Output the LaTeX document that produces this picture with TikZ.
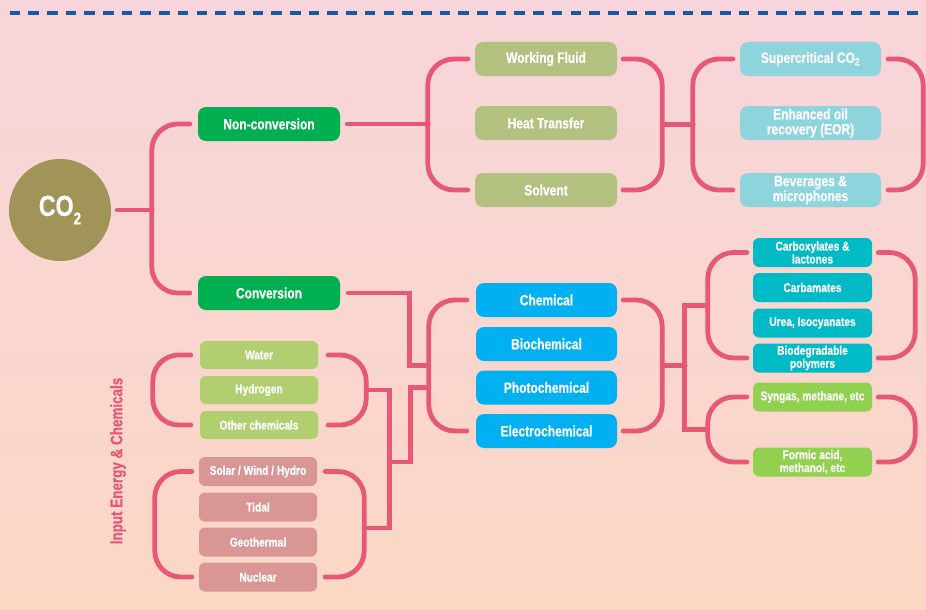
\documentclass[tikz,border=0pt]{standalone}
\usepackage{fontspec}
\setmainfont{Liberation Sans}[FakeStretch=0.8, BoldFeatures={FakeBold=0.5}]
\usetikzlibrary{calc}

\definecolor{bgtop}{RGB}{247,213,218}
\definecolor{bgbot}{RGB}{251,215,196}
\definecolor{linkred}{RGB}{230,88,118}
\definecolor{dashblue}{RGB}{22,90,165}
\definecolor{coolive}{RGB}{160,148,89}
\definecolor{routegreen}{RGB}{0,176,80}
\definecolor{useolive}{RGB}{178,192,128}
\definecolor{usecyan}{RGB}{141,212,220}
\definecolor{procblue}{RGB}{0,176,240}
\definecolor{prodteal}{RGB}{0,186,198}
\definecolor{fuelgreen}{RGB}{146,208,80}
\definecolor{feedgreen}{RGB}{177,206,112}
\definecolor{energyrose}{RGB}{217,150,149}

\tikzset{
  box/.style={rounded corners=8pt, minimum width=142pt, minimum height=34pt, inner sep=1pt,
    text=white, align=center, font=\bfseries\fontsize{15}{15}\selectfont},
  smallbox/.style={box, rounded corners=6pt, minimum width=119pt, minimum height=29pt,
    font=\bfseries\fontsize{12.7}{13}\selectfont},
  routebox/.style={box, fill=routegreen},
  usebox/.style={box, fill=useolive},
  sysbox/.style={box, fill=usecyan, minimum width=141pt},
  procbox/.style={box, fill=procblue, minimum width=141pt},
  prodbox/.style={smallbox, fill=prodteal},
  fuelbox/.style={smallbox, fill=fuelgreen},
  feedbox/.style={smallbox, fill=feedgreen, minimum width=118pt, minimum height=28pt},
  energybox/.style={smallbox, fill=energyrose, minimum width=118pt},
  link/.style={draw=linkred, line width=4.8pt, line cap=round, rounded corners=26pt},
  elbow/.style={draw=linkred, line width=4.8pt, line cap=round}
}

\begin{document}
\begin{tikzpicture}[x=1pt, y=-1pt]
\useasboundingbox (0,0) rectangle (926,610);
\shade[top color=bgtop, bottom color=bgbot] (0,0) rectangle (926,610);
\draw[dashblue, line width=3.2pt, dash pattern=on 10.6pt off 8.1pt] (9.5,13) -- (926,13);

\node[circle, fill=coolive, minimum size=102pt, inner sep=0pt, text=white,
  font=\bfseries\fontsize{29}{29}\selectfont] (co2) at (60,210)
  {CO\raisebox{-0.55ex}{\fontsize{17}{17}\selectfont 2}};

\node[routebox] (nonconv) at (269,124) {Non-conversion};
\node[routebox] (conv) at (269,293) {Conversion};

\foreach \n/\y/\t in {wf/59/Working Fluid, ht/123/Heat Transfer, solv/190/Solvent}
  \node[usebox] (\n) at (546,\y) {\t};
\foreach \n/\y/\t in {scco2/59/{Supercritical CO\textsubscript{2}}, eor/123/{Enhanced oil\\recovery (EOR)},
    bev/190/{Beverages \&\\microphones}}
  \node[sysbox] (\n) at (810.5,\y) {\t};
\foreach \n/\y/\t in {chem/300/Chemical, bio/344/Biochemical, photo/387.5/Photochemical,
    elec/431/Electrochemical}
  \node[procbox] (\n) at (546.5,\y) {\t};
\foreach \n/\y/\t in {carb/252.5/{Carboxylates \&\\lactones}, carba/287.5/Carbamates,
    urea/323/{Urea, Isocyanates}, biod/358/{Biodegradable\\polymers}}
  \node[prodbox] (\n) at (812.5,\y) {\t};
\foreach \n/\y/\t in {syn/397/{Syngas, methane, etc}, form/462/{Formic acid,\\methanol, etc}}
  \node[fuelbox] (\n) at (812.5,\y) {\t};
\foreach \n/\y/\t in {water/355/Water, hydro/390/Hydrogen, other/425/Other chemicals}
  \node[feedbox] (\n) at (259,\y) {\t};
\foreach \n/\y/\t in {solar/471.5/{Solar / Wind / Hydro}, tidal/507/Tidal, geo/542/Geothermal,
    nuc/577/Nuclear}
  \node[energybox] (\n) at (258,\y) {\t};

\node[rotate=90, text=linkred, font=\bfseries\fontsize{16.8}{17}\selectfont] (inlabel)
  at (118,461) {Input Energy \& Chemicals};

% non-conversion side
\draw[link] ([xshift=6pt]co2.east) -- ++(35,0);
\draw[link] ([xshift=-8pt]nonconv.west) -- ++(-38,0) |- ([xshift=-8pt]conv.west);
\draw[link] ([xshift=7pt]nonconv.east) -- ++(81,0);
\draw[link] ([xshift=-7pt]wf.west) -- ++(-40,0) |- ([xshift=-7pt]solv.west);
\draw[link] ([xshift=6pt]wf.east) -- ++(39,0) |- ([xshift=6pt]solv.east);
\draw[link] ($(wf.east)!0.5!(solv.east)+(45,0)$) -- ++(31,0);
\draw[link] ([xshift=-7pt]scco2.west) -- ++(-40,0) |- ([xshift=-7pt]bev.west);
\draw[link] ([xshift=7pt]scco2.east) -- ++(35,0) |- ([xshift=7pt]bev.east);

% conversion side
\draw[link] ([xshift=-9pt]chem.west) -- ++(-38,0) |- ([xshift=-9pt]elec.west);
\draw[link] ([xshift=6pt]chem.east) -- ++(39,0) |- ([xshift=6pt]elec.east);
\draw[link] ([xshift=-6pt]carb.west) -- ++(-39,0) |- ([xshift=-6pt]biod.west);
\draw[link] ([xshift=6pt]carb.east) -- ++(37,0) |- ([xshift=6pt]biod.east);
\draw[link] ([xshift=-6pt]syn.west) -- ++(-39,0) |- ([xshift=-6pt]form.west);
\draw[link] ([xshift=6pt]syn.east) -- ++(37,0) |- ([xshift=6pt]form.east);
\coordinate (tealj) at ($(carb.west)!0.5!(biod.west)+(-45,0)$);
\coordinate (fuelj) at ($(syn.west)!0.5!(form.west)+(-45,0)$);
\draw[elbow] ($(chem.east)!0.5!(elec.east)+(45,0)$) -- ++(23,0);
\draw[elbow] (tealj) -- ++(-23,0) |- (fuelj);

% inputs
\draw[link] ([xshift=-9pt]water.west) -- ++(-38,0) |- ([xshift=-9pt]other.west);
\draw[link] ([xshift=10pt]water.east) -- ++(38,0) |- ([xshift=10pt]other.east);
\draw[link] ([xshift=-7pt]solar.west) -- ++(-37,0) |- ([xshift=-7pt]nuc.west);
\draw[link] ([xshift=8pt]solar.east) -- ++(39,0) |- ([xshift=8pt]nuc.east);
\coordinate (wj) at ($(water.east)!0.5!(other.east)+(48,0)$);
\coordinate (ej) at ($(tidal.east)!0.6!(geo.east)+(47,0)$);
\coordinate (ij) at (389,462);
\coordinate (cin) at ($(chem.west)!0.5!(elec.west)+(-47,0)$);
\coordinate (ein) at ($(photo.west)+(-47,0)$);
\draw[elbow] ([xshift=8pt]conv.east) -| ([xshift=-19pt]cin) -- (cin);
\draw[elbow] (ein) -- ++(-18,0) |- (ij);
\draw[elbow] (wj) -| ([xshift=25pt]ej) -- (ej);
\end{tikzpicture}
\end{document}
